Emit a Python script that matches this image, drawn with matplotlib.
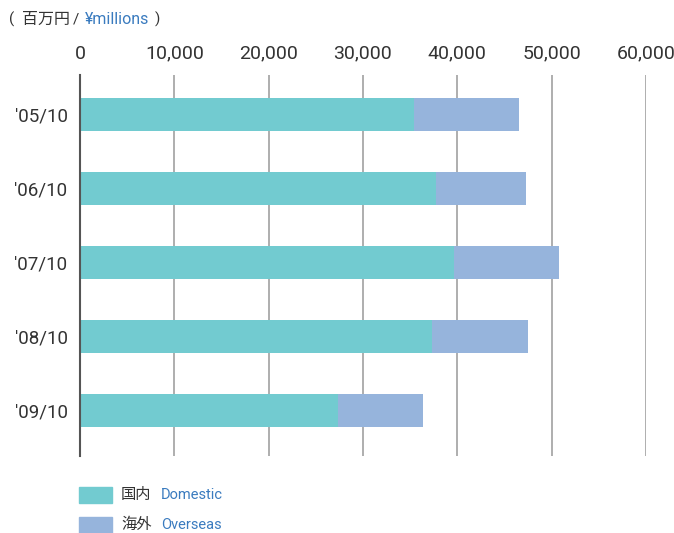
import matplotlib
matplotlib.use("Agg")
import matplotlib.pyplot as plt
from matplotlib.patches import Rectangle

plt.rcParams['font.family'] = ['Roboto', 'Noto Sans CJK JP', 'DejaVu Sans']

categories = ["'05/10", "'06/10", "'07/10", "'08/10", "'09/10"]
domestic = [35400, 37700, 39600, 37300, 27400]
overseas = [11150, 9550, 11200, 10200, 9000]
xticks = [0, 10000, 20000, 30000, 40000, 50000, 60000]

c_dom = '#72CBD0'
c_ovs = '#96B4DC'
c_blue = '#3A7BBF'
c_txt = '#333333'

W, H = 674, 533
fig = plt.figure(figsize=(W / 100, H / 100), dpi=100)
ax = fig.add_axes([80 / W, 1 - 456 / H, (646 - 80) / W, (456 - 75) / H])

y = list(range(len(categories)))
ax.barh(y, domestic, height=0.446, color=c_dom, zorder=3)
ax.barh(y, overseas, left=domestic, height=0.446, color=c_ovs, zorder=3)

ax.set_xlim(0, 60000)
ax.set_ylim(len(categories) - 1 + 0.615, -0.534)
ax.set_xticks(xticks)
ax.set_xticklabels([f"{v:,}" for v in xticks])
ax.set_yticks(y)
ax.set_yticklabels(categories)
ax.xaxis.tick_top()
ax.tick_params(axis='x', length=0, pad=9, labelsize=14, colors=c_txt)
ax.tick_params(axis='y', length=0, pad=9, labelsize=13.5, colors=c_txt)

ax.grid(axis='x', color='#999999', linewidth=1.1, zorder=0)
ax.grid(axis='y', visible=False)
for s in ['top', 'right', 'bottom']:
    ax.spines[s].set_visible(False)
ax.spines['left'].set_color('#555555')
ax.spines['left'].set_linewidth(1.5)
ax.spines['left'].set_zorder(4)


def ftext(x, yy, s, color=c_txt, size=11):
    fig.text(x / W, 1 - yy / H, s, color=color, fontsize=size, ha='left', va='center')


# unit label
ftext(9, 19, "(", size=11)
ftext(22, 19, "百万円", size=11.5)
ftext(73, 19, "/", size=11)
ftext(85, 19, "¥millions", color=c_blue, size=11.5)
ftext(155, 19, ")", size=11)

# legend
legend_rows = [("国内", "Domestic", c_dom, 495), ("海外", "Overseas", c_ovs, 525)]
for jp, en, col, yc in legend_rows:
    fig.patches.append(Rectangle((79 / W, 1 - (yc + 8) / H), 33 / W, 16 / H,
                                 transform=fig.transFigure, color=col))
    ftext(121, yc, jp, size=11)
    ftext(161, yc, en, color=c_blue, size=10.5)

fig.savefig("out.png", dpi=100)
